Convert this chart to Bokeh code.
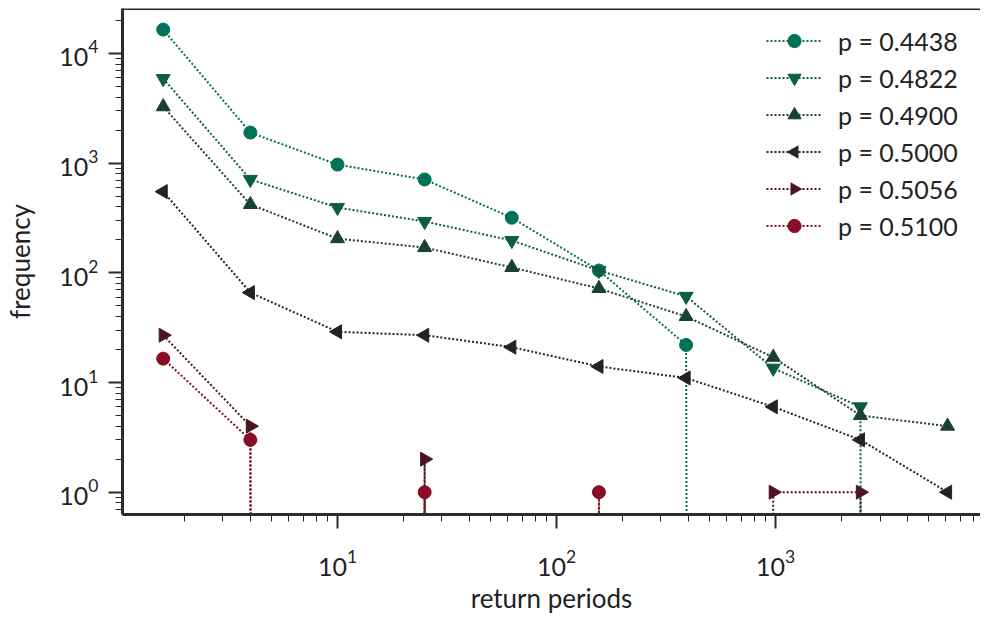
import math
from bokeh.plotting import figure
from bokeh.models import Range1d, Span, LogTicker, PolyAnnotation
from bokeh.embed import file_html
from bokeh.resources import INLINE

# ---- data ----
return_periods = [1.6, 4.0, 10.0, 25.0, 62.5, 156.25, 390.625, 976.5625, 2441.40625, 6103.515625]
labels = ["p = 0.4438", "p = 0.4822", "p = 0.4900", "p = 0.5000", "p = 0.5056", "p = 0.5100"]
freq_4438 = [16500, 1900, 970, 710, 318, 105, 22, 0, 0, 0]
freq_4822 = [5900, 710, 394, 294, 197, 105, 61, 13.5, 6, 0]
freq_4900 = [3270, 420, 205, 170, 112, 72, 40, 17, 5, 4]
freq_5000 = [550, 66, 29, 27, 21, 14, 11, 6, 3, 1]
freq_5056 = [27, 4, 0, 2, 0, 0, 0, 1, 1, 0]
freq_5100 = [16.5, 3, 0, 1, 0, 1, 0, 0, 0, 0]

series = [freq_4438, freq_4822, freq_4900, freq_5000, freq_5056, freq_5100]
colors = ["#007257", "#0c5d48", "#1a3f35", "#232323", "#4b1621", "#8a0c25"]
markers = ["circle", "inverted_triangle", "triangle", "triangle", "triangle", "circle"]
angles = [0, 0, 0, math.pi / 2, -math.pi / 2, 0]
sizes = [13, 14, 14, 14, 14, 13]

FONT = "Lato"
AX = "#2b2b2b"
CLIP = 1e-300  # zero counts are clipped (as on a log axis) -> vertical drops

# legend layout (screen units, relative to the frame's bottom-left)
LEG_X, LEG_Y, GW, GH, SP = 644, 272, 56, 33, 4

p = figure(width=980, height=616, x_axis_type="log", y_axis_type="log",
           x_range=Range1d(1.043, 8630), y_range=Range1d(0.626, 25700),
           output_backend="svg", toolbar_location=None,
           min_border_left=122, min_border_right=0, min_border_top=8, min_border_bottom=101)
p.outline_line_color = None
p.grid.visible = False
p.background_fill_color = "white"

n = len(series)
for i, (ys, col, mk, ang, sz, lab) in enumerate(zip(series, colors, markers, angles, sizes, labels)):
    yplot = [v if v > 0 else CLIP for v in ys]
    p.line(return_periods, yplot, line_color=col, line_width=2, line_dash="2 2", legend_label=lab)
    xs = [x for x, v in zip(return_periods, ys) if v > 0]
    yv = [v for v in ys if v > 0]
    if ang == 0:
        p.scatter(xs, yv, marker=mk, size=sz, fill_color=col, line_color=col, legend_label=lab)
    else:
        p.scatter(xs, yv, marker=mk, angle=ang, size=sz, fill_color=col, line_color=col)
        # legend key marker (Bokeh legends ignore marker angle): rotated triangle
        cx = LEG_X + GW / 2
        cy = LEG_Y + n * GH + (n - 1) * SP - i * (GH + SP) - GH / 2
        r = 0.4 * min(GW, GH) / 2
        h = r * math.sqrt(3)
        a = h / 3
        d = 1 if ang > 0 else -1  # +1: pointing left, -1: pointing right
        pxs = [cx - d * 2 * a, cx + d * a, cx + d * a]
        pys = [cy, cy + r, cy - r]
        p.add_layout(PolyAnnotation(xs=pxs, ys=pys, xs_units="screen", ys_units="screen",
                                    fill_color=col, fill_alpha=1, line_color=col, line_width=1))

for ax in (p.xaxis[0], p.yaxis[0]):
    ax.axis_line_width = 3
    ax.axis_line_color = AX
    ax.major_tick_out = 14
    ax.major_tick_in = 0
    ax.minor_tick_out = 7
    ax.minor_tick_in = 0
    ax.major_tick_line_width = 2
    ax.minor_tick_line_width = 1
    ax.major_tick_line_color = AX
    ax.minor_tick_line_color = AX
    ax.major_label_text_font = FONT
    ax.major_label_text_font_size = "25px"
    ax.major_label_text_color = "#222222"
    ax.axis_label_text_font = FONT
    ax.axis_label_text_font_size = "26px"
    ax.axis_label_text_font_style = "normal"
    ax.axis_label_text_color = "#222222"

p.xaxis.ticker = LogTicker(num_minor_ticks=10)
p.yaxis.ticker = LogTicker(num_minor_ticks=10)
p.xaxis.axis_label = "return periods"
p.yaxis.axis_label = "frequency"
p.xaxis.major_label_standoff = 21
p.xaxis.axis_label_standoff = 3
p.yaxis.major_label_standoff = 10
p.yaxis.axis_label_standoff = 20

top = Span(location=25700, dimension="width", line_color=AX, line_width=3)
p.add_layout(top)

lg = p.legend[0]
lg.location = (LEG_X, LEG_Y)
lg.border_line_color = None
lg.background_fill_alpha = 0
lg.padding = 0
lg.margin = 0
lg.spacing = SP
lg.glyph_width = GW
lg.glyph_height = GH
lg.label_standoff = 16
lg.label_height = 20
lg.label_text_font = FONT
lg.label_text_font_size = "25px"
lg.label_text_color = "#222222"

html = file_html(p, INLINE)
open("out.html", "w").write(html)
